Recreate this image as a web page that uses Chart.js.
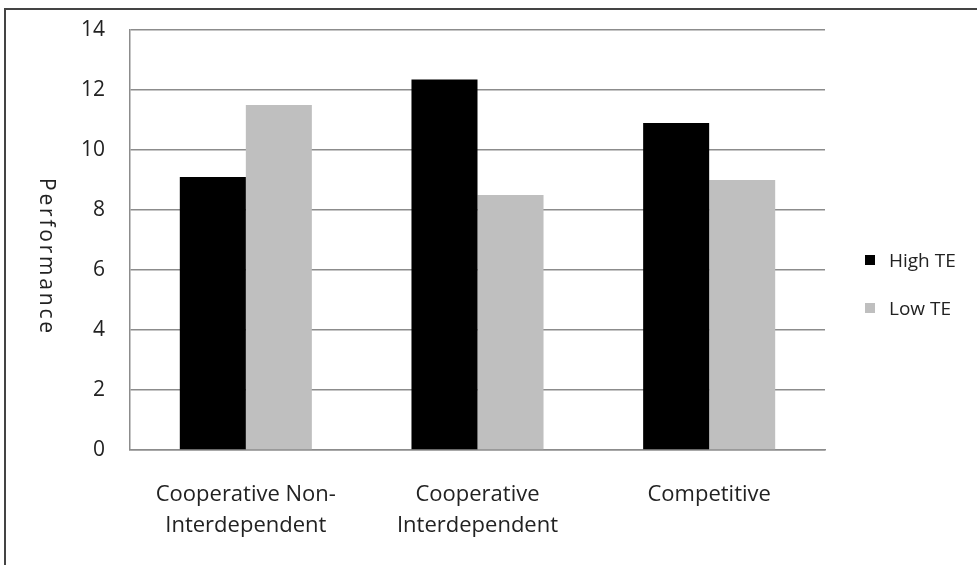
<!DOCTYPE html>
<html>
<head>
<meta charset="utf-8">
<script src="https://cdn.jsdelivr.net/npm/chart.js@4.4.0/dist/chart.umd.min.js"></script>
<style>
  html, body { margin: 0; padding: 0; background: #fff; }
  #wrap { position: relative; width: 977px; height: 565px; overflow: hidden; font-family: "Open Sans", "Liberation Sans", sans-serif; }
  #frame { position: absolute; left: 4px; top: 8px; width: 1000px; height: 600px; border-left: 2px solid #444; border-top: 2px solid #444; box-sizing: border-box; }
  #ytitle { position: absolute; left: 37px; top: 177px; height: 160px; writing-mode: vertical-rl; font-size: 21px; letter-spacing: 2.8px; color: #222; line-height: 22px; text-align: center; }
  .leg { position: absolute; left: 865px; font-size: 19px; color: #222; line-height: 22px; }
  .leg span { display: inline-block; width: 10px; height: 10px; margin-right: 14px; vertical-align: 2px; }
</style>
</head>
<body>
<div id="wrap">
  <canvas id="chart" width="977" height="565"></canvas>
  <div id="frame"></div>
  <div id="ytitle">Performance</div>
  <div class="leg" style="top:249px"><span style="background:#000"></span>High TE</div>
  <div class="leg" style="top:297px"><span style="background:#bfbfbf"></span>Low TE</div>
</div>
<script>
const categories = [
  ["Cooperative Non-", "Interdependent"],
  ["Cooperative", "Interdependent"],
  "Competitive",
];
const highTE = [9.1, 12.35, 10.9];
const lowTE = [11.5, 8.5, 9.0];

new Chart(document.getElementById("chart"), {
  type: "bar",
  data: {
    labels: categories,
    datasets: [
      { label: "High TE", data: highTE, backgroundColor: "#000000" },
      { label: "Low TE", data: lowTE, backgroundColor: "#bfbfbf" },
    ],
  },
  options: {
    responsive: false,
    animation: false,
    layout: { padding: { left: 0, top: 30, right: 152, bottom: 0 } },
    plugins: { legend: { display: false }, tooltip: { enabled: false } },
    datasets: { bar: { categoryPercentage: 0.57, barPercentage: 1 } },
    scales: {
      x: {
        grid: { display: false },
        border: { color: "#8c8c8c", width: 1.5 },
        ticks: {
          color: "#222",
          padding: 22,
          maxRotation: 0,
          font: { family: "Open Sans", size: 22, lineHeight: 1.38 },
        },
        afterFit: (scale) => { scale.height = 115; },
      },
      y: {
        min: 0,
        max: 14,
        ticks: {
          stepSize: 2,
          color: "#222",
          padding: 25,
          font: { family: "Open Sans", size: 21 },
        },
        grid: { color: "#8c8c8c", lineWidth: 1.5, drawTicks: false },
        border: { color: "#8c8c8c", width: 1.5 },
        afterFit: (scale) => {
          scale.width = 130;
          scale.paddingTop = 0;
          scale.paddingBottom = 0;
        },
      },
    },
  },
});
</script>
</body>
</html>
